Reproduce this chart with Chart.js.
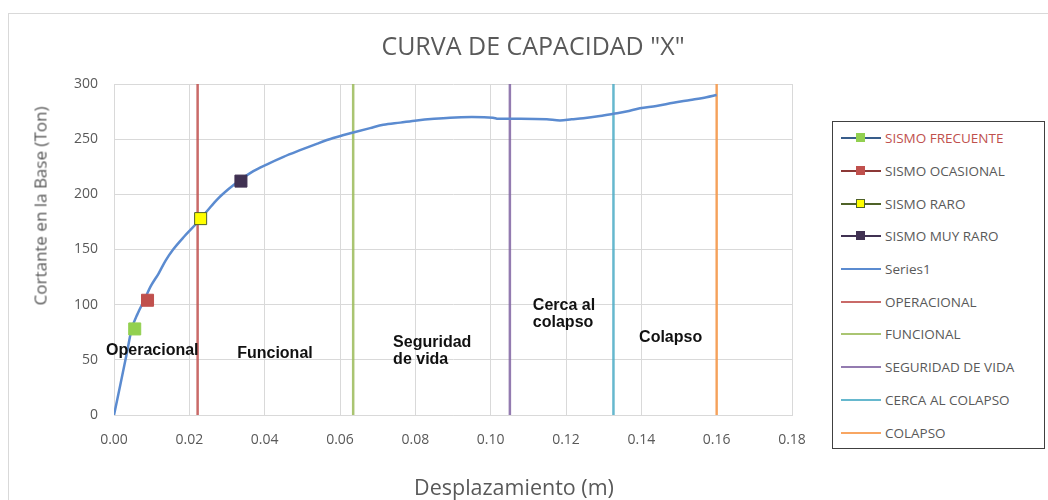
<!DOCTYPE html>
<html>
<head>
<meta charset="utf-8">
<script src="https://cdn.jsdelivr.net/npm/chart.js"></script>
<style>
  html, body { margin: 0; padding: 0; background: #fff; overflow: hidden; width: 1048px; height: 500px; }
  #frame { position: absolute; left: 8px; top: 13px; width: 1060px; height: 500px; border: 1px solid #d9d9d9; box-sizing: border-box; }
  #wrap { position: absolute; left: 8px; top: 13px; width: 1050px; height: 487px; }
  #wrap canvas { display: block; }
  .txt { position: absolute; font-family: "Open Sans", sans-serif; color: #595959; white-space: nowrap; line-height: 1; }
  #titulo { left: 533px; top: 45px; font-size: 25px; transform: translate(-50%, -50%); }
  #ytitle { left: 40px; top: 206px; font-size: 17px; transform: translate(-50%, -50%) rotate(-90deg); }
  #xtitle { left: 514px; top: 487px; font-size: 21.5px; transform: translate(-50%, -50%); }
  #legend { position: absolute; left: 832px; top: 121px; width: 213px; height: 328px; border: 1px solid #404040; box-sizing: border-box; background: #fff; }
  .item { height: 32.7px; display: flex; align-items: center; font-family: "Open Sans", sans-serif; font-size: 13.5px; color: #595959; white-space: nowrap; }
  .swatch { position: relative; width: 40px; height: 12px; margin-left: 8px; margin-right: 4px; }
  .swatch .ln { position: absolute; left: 0; right: 0; top: 5px; height: 2px; }
  .swatch .mk { position: absolute; left: 15px; top: 1px; width: 9px; height: 9px; box-sizing: border-box; }
</style>
</head>
<body>
<div id="frame"></div>
<div id="wrap"><canvas id="grafico" width="1050" height="487"></canvas></div>
<div class="txt" id="titulo">CURVA DE CAPACIDAD "X"</div>
<div class="txt" id="ytitle">Cortante en la Base (Ton)</div>
<div class="txt" id="xtitle">Desplazamiento (m)</div>
<div id="legend"></div>
<script>
// curva de capacidad (desplazamiento m, cortante Ton)
const curvaX = [0, 0.0016, 0.0034, 0.0047, 0.0063, 0.0080, 0.0098, 0.0118, 0.0137, 0.0157, 0.0187, 0.0220, 0.0250, 0.0273,
  0.0305, 0.0335, 0.0370, 0.0405, 0.0450, 0.0494, 0.0540, 0.0582, 0.0635, 0.0680, 0.0715, 0.0760, 0.0804, 0.0850,
  0.0892, 0.0950, 0.1006, 0.1020, 0.1080, 0.1149, 0.1184, 0.1215, 0.1246, 0.1290, 0.1326, 0.1360, 0.1396, 0.1440,
  0.1485, 0.1530, 0.1573, 0.1600];
const curvaY = [0, 26, 56, 78, 92, 104, 117, 128, 140, 150, 162, 174, 186, 195,
  205, 213, 221, 227, 234, 240, 246, 251, 256, 260, 263, 265, 267, 268.5,
  269.5, 270, 269.5, 268.5, 268.5, 268, 267, 268, 269, 271, 273, 275, 278, 280,
  283, 285.5, 288, 290];

// puntos de desempeño
const sismos = ['SISMO FRECUENTE', 'SISMO OCASIONAL', 'SISMO RARO', 'SISMO MUY RARO'];
const sismoX = [0.0055, 0.0089, 0.0230, 0.0337];
const sismoY = [78, 104, 178, 212];

// limites de desempeño (lineas verticales)
const limites = ['OPERACIONAL', 'FUNCIONAL', 'SEGURIDAD DE VIDA', 'CERCA AL COLAPSO', 'COLAPSO'];
const limiteX = [0.0222, 0.0635, 0.1051, 0.1326, 0.16];
const cortanteMax = 300;

// etiquetas de zonas
const zonas = [['Operacional'], ['Funcional'], ['Seguridad', 'de vida'], ['Cerca al', 'colapso'], ['Colapso']];
const zonaX = [-0.0021, 0.0327, 0.0741, 0.1112, 0.1394];
const zonaY = [[58], [55.3], [65.3, 49.9], [98.8, 83.4], [69.8]];

const xTicks = [0, 0.02, 0.04, 0.06, 0.08, 0.10, 0.12, 0.14, 0.16, 0.18];

// estilos
const sismoFill = ['#92D050', '#C0504D', '#FFFF00', '#403152'];
const sismoBorde = ['#92D050', '#C0504D', '#4F6228', '#403152'];
const sismoLinea = ['#385D8A', '#8C3836', '#4F6228', '#403152'];
const limiteColor = ['rgba(192,80,77,0.85)', 'rgba(155,187,89,0.85)', 'rgba(128,100,162,0.85)', 'rgba(75,172,198,0.85)', 'rgba(247,150,70,0.85)'];
const curvaColor = '#5B8BD0';

const datasets = [];
sismos.forEach((n, i) => {
    datasets.push({
        label: n,
        data: [{x: sismoX[i], y: sismoY[i]}],
        showLine: false,
        pointStyle: 'rect',
        pointRadius: 8.5,
        pointBorderWidth: 1,
        backgroundColor: sismoFill[i],
        borderColor: sismoBorde[i],
        order: 0
    });
});
datasets.push({
    label: 'Series1',
    data: curvaX.map((x, i) => ({x: x, y: curvaY[i]})),
    showLine: true,
    borderColor: curvaColor,
    borderWidth: 2.5,
    pointRadius: 0,
    cubicInterpolationMode: 'monotone',
    order: 1
});
limites.forEach((n, i) => {
    datasets.push({
        label: n,
        data: [{x: limiteX[i], y: 0}, {x: limiteX[i], y: cortanteMax}],
        showLine: true,
        borderColor: limiteColor[i],
        borderWidth: 2.5,
        pointRadius: 0,
        order: 2
    });
});

const etiquetasZonas = {
    id: 'etiquetasZonas',
    afterDatasetsDraw(chart) {
        const ctx = chart.ctx;
        const sx = chart.scales.x, sy = chart.scales.y;
        ctx.save();
        ctx.font = 'bold 16px "Liberation Sans", Arial, sans-serif';
        ctx.fillStyle = '#111';
        ctx.textAlign = 'left';
        ctx.textBaseline = 'middle';
        zonas.forEach((lineas, i) => {
            lineas.forEach((t, j) => {
                ctx.fillText(t, sx.getPixelForValue(zonaX[i]), sy.getPixelForValue(zonaY[i][j]));
            });
        });
        ctx.restore();
    }
};

const grafico = new Chart(document.getElementById('grafico').getContext('2d'), {
    type: 'scatter',
    data: { datasets: datasets },
    options: {
        responsive: false,
        animation: false,
        layout: { padding: { left: 0, right: 266, top: 71, bottom: 0 } },
        plugins: {
            legend: { display: false },
            tooltip: { enabled: false },
            title: { display: false }
        },
        scales: {
            x: {
                type: 'linear',
                min: 0,
                max: 0.18,
                afterBuildTicks: (s) => { s.ticks = xTicks.map(v => ({value: v})); },
                afterFit: (s) => { s.height = 85; },
                grid: { color: '#d9d9d9', drawTicks: false },
                border: { color: '#d9d9d9' },
                ticks: {
                    padding: 17,
                    color: '#595959',
                    font: { family: '"Open Sans", sans-serif', size: 14 },
                    callback: (v) => Number(v).toFixed(2)
                }
            },
            y: {
                min: 0,
                max: cortanteMax,
                afterFit: (s) => { s.width = 106; },
                grid: { color: '#d9d9d9', drawTicks: false },
                border: { color: '#d9d9d9' },
                ticks: {
                    stepSize: 50,
                    padding: 16,
                    color: '#595959',
                    font: { family: '"Open Sans", sans-serif', size: 14 }
                }
            }
        }
    },
    plugins: [etiquetasZonas]
});

// leyenda
const leyenda = document.getElementById('legend');
const entradas = [];
sismos.forEach((n, i) => entradas.push({t: n, linea: sismoLinea[i], fill: sismoFill[i], borde: sismoBorde[i], color: i === 0 ? '#C0504D' : '#595959'}));
entradas.push({t: 'Series1', linea: curvaColor, color: '#595959'});
limites.forEach((n, i) => entradas.push({t: n, linea: limiteColor[i], color: '#595959'}));
entradas.forEach(e => {
    const row = document.createElement('div');
    row.className = 'item';
    const sw = document.createElement('div');
    sw.className = 'swatch';
    sw.innerHTML = '<div class="ln" style="background:' + e.linea + '"></div>' +
        (e.fill ? '<div class="mk" style="background:' + e.fill + ';border:1px solid ' + e.borde + '"></div>' : '');
    const tx = document.createElement('span');
    tx.textContent = e.t;
    tx.style.color = e.color;
    row.appendChild(sw);
    row.appendChild(tx);
    leyenda.appendChild(row);
});
</script>
</body>
</html>
